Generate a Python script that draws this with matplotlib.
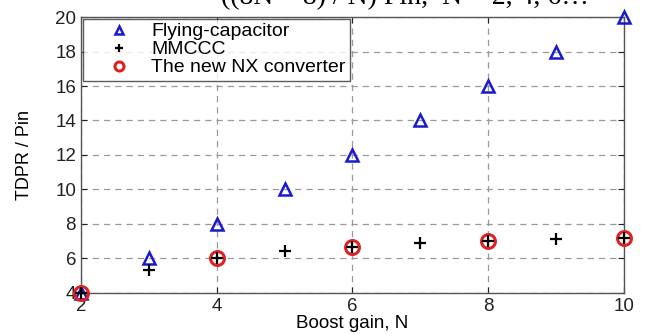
import matplotlib.pyplot as plt

plt.rcParams['font.family'] = ['Liberation Sans', 'DejaVu Sans']

# data
n_fc = [2, 3, 4, 5, 6, 7, 8, 9, 10]
tdpr_fc = [4, 6, 8, 10, 12, 14, 16, 18, 20]

n_mm = [2, 3, 4, 5, 6, 7, 8, 9, 10]
tdpr_mm = [4.0, 5.33, 6.0, 6.4, 6.67, 6.86, 7.0, 7.11, 7.2]

n_nx = [2, 4, 6, 8, 10]
tdpr_nx = [4.0, 6.0, 6.67, 7.0, 7.2]

x_ticks = [2, 4, 6, 8, 10]
y_ticks = [4, 6, 8, 10, 12, 14, 16, 18, 20]


def main():
    fig = plt.figure(figsize=(6.51, 3.34), dpi=100)
    ax = fig.add_axes([0.1244, 0.1237, 0.834, 0.825])

    ax.plot(n_fc, tdpr_fc, linestyle='none', marker='^', markersize=9,
            markerfacecolor='none', markeredgecolor='#1a1acc', markeredgewidth=1.8,
            label='Flying-capacitor', clip_on=False, zorder=3)
    ax.plot(n_mm, tdpr_mm, linestyle='none', marker='+', markersize=8,
            color='black', markeredgewidth=1.6, label='MMCCC', clip_on=False, zorder=5)
    ax.plot(n_nx, tdpr_nx, linestyle='none', marker='o', markersize=10,
            markerfacecolor='none', markeredgecolor='#dd2222', markeredgewidth=2.2,
            label='The new NX converter', clip_on=False, zorder=4)

    ax.set_xlim(2, 10)
    ax.set_ylim(4, 20)
    ax.set_xticks(x_ticks)
    ax.set_yticks(y_ticks)
    ax.tick_params(direction='in', top=True, right=True, labelsize=13.5,
                   colors='#222222', length=4)
    for s in ax.spines.values():
        s.set_color('#555555')
        s.set_linewidth(1.0)
    ax.grid(True, linestyle=(0, (5, 4)), color='#999999', linewidth=0.9)

    ax.set_xlabel('Boost gain, N', fontsize=13.5, labelpad=0)
    ax.set_ylabel('TDPR / Pin', fontsize=13, labelpad=16)

    leg = ax.legend(loc='upper left', bbox_to_anchor=(0.003, 0.995), fontsize=14,
                    frameon=True, fancybox=False, borderaxespad=0.0,
                    handletextpad=0.0, labelspacing=0.02, borderpad=0.22,
                    handlelength=3.3, markerscale=0.65)
    leg.get_frame().set_edgecolor('#333333')
    leg.get_frame().set_linewidth(1.0)

    fig.text(0.34, 0.9865, '((8N \u2212 8) / N) Pin,  N = 2, 4, 6\u2026',
             family=['Liberation Serif', 'DejaVu Serif'], fontsize=20,
             va='baseline', ha='left')

    fig.savefig('out.png', dpi=100)


if __name__ == "__main__":
    main()
